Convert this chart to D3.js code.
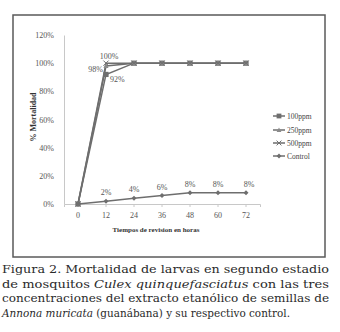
<!DOCTYPE html>
<html>
<head>
<meta charset="utf-8">
<script src="https://cdn.jsdelivr.net/npm/d3@7"></script>
<style>
  html, body { margin: 0; padding: 0; background: #fff; }
  svg { display: block; }
</style>
</head>
<body>
<svg id="chart" width="340" height="332"></svg>
<script>
// Hours of observation (categories on the x axis)
const hours = ["0", "12", "24", "36", "48", "60", "72"];
// Mortality (fraction) per concentration
const mort100 = [0, 0.92, 1, 1, 1, 1, 1];
const mort250 = [0, 0.98, 1, 1, 1, 1, 1];
const mort500 = [0, 1.00, 1, 1, 1, 1, 1];
const control = [0, 0.02, 0.04, 0.06, 0.08, 0.08, 0.08];
const seriesNames = ["100ppm", "250ppm", "500ppm", "Control"];
const yTicks = [0, 0.2, 0.4, 0.6, 0.8, 1.0, 1.2];

const svg = d3.select("#chart");
const fmt = d => Math.round(d * 100) + "%";
const serif = "'Liberation Serif', 'Times New Roman', serif";
const grey = "#6e6e6e";

// Frame around the chart
svg.append("rect")
  .attr("x", 13).attr("y", 15).attr("width", 312).attr("height", 242)
  .attr("fill", "#fff").attr("stroke", "#5a5a5a").attr("stroke-width", 1.5);

const x = d3.scaleBand().domain(hours).range([64, 260]);
const y = d3.scaleLinear().domain([0, 1.2]).range([204, 35]);
const cx = h => x(h) + x.bandwidth() / 2;

// Y axis
const yAxis = svg.append("g").attr("transform", "translate(64,0)")
  .call(d3.axisLeft(y).tickValues(yTicks).tickFormat(fmt).tickSize(0).tickPadding(10));
yAxis.select(".domain").attr("stroke", "#c8c8c8");
yAxis.selectAll("text").attr("font-family", serif).attr("font-size", 8).attr("fill", "#555");

// X axis
const xAxis = svg.append("g").attr("transform", "translate(0,204)")
  .call(d3.axisBottom(x).tickSize(3).tickPadding(5));
xAxis.select(".domain").attr("stroke", "#c8c8c8");
xAxis.selectAll(".tick line").attr("stroke", "#c8c8c8");
xAxis.selectAll("text").attr("font-family", serif).attr("font-size", 8).attr("fill", "#555");

// Axis titles
svg.append("text")
  .attr("x", 156).attr("y", 232).attr("text-anchor", "middle")
  .attr("font-family", serif).attr("font-weight", "bold").attr("font-size", 7).attr("fill", "#333")
  .text("Tiempos de revision en horas");
svg.append("text")
  .attr("transform", "translate(36,117) rotate(-90)").attr("text-anchor", "middle")
  .attr("font-family", serif).attr("font-weight", "bold").attr("font-size", 8).attr("fill", "#333")
  .text("% Mortalidad");

const line = d3.line().x((d, i) => cx(hours[i])).y(d => y(d));
const allSeries = [mort100, mort250, mort500, control];

// Lines
allSeries.forEach(vals => {
  svg.append("path").datum(vals).attr("d", line)
    .attr("fill", "none").attr("stroke", grey).attr("stroke-width", 1.5);
});

// Marker drawers
function marker(g, kind, px, py, s) {
  if (kind === "square") {
    g.append("rect").attr("x", px - s).attr("y", py - s).attr("width", 2 * s).attr("height", 2 * s)
      .attr("fill", grey);
  } else if (kind === "triangle") {
    g.append("path").attr("d", `M${px},${py - s}L${px + s},${py + s * 0.8}L${px - s},${py + s * 0.8}Z`)
      .attr("fill", "#8a8a8a");
  } else if (kind === "cross") {
    g.append("path").attr("d", `M${px - s},${py - s}L${px + s},${py + s}M${px - s},${py + s}L${px + s},${py - s}`)
      .attr("stroke", grey).attr("stroke-width", 1);
  } else {
    g.append("path").attr("d", `M${px},${py - s}L${px + s},${py}L${px},${py + s}L${px - s},${py}Z`)
      .attr("fill", grey);
  }
}
const kinds = ["square", "triangle", "cross", "diamond"];
const markG = svg.append("g");
allSeries.forEach((vals, k) => {
  vals.forEach((v, i) => marker(markG, kinds[k], cx(hours[i]), y(v), k === 3 ? 2.5 : 2.6));
});

// Value labels
const lab = (txt, px, py, anchor) => svg.append("text")
  .attr("x", px).attr("y", py).attr("text-anchor", anchor || "middle")
  .attr("font-family", serif).attr("font-size", 8).attr("fill", "#555").text(txt);
lab(fmt(mort500[1]), cx(hours[1]) + 3, y(mort500[1]) - 4);
lab(fmt(mort250[1]), cx(hours[1]) - 3, y(mort250[1]) + 6, "end");
lab(fmt(mort100[1]), cx(hours[1]) + 4, y(mort100[1]) + 8, "start");
control.forEach((v, i) => {
  if (i > 0) lab(fmt(v), cx(hours[i]) + (i === 6 ? 3 : 0), y(v) - 6);
});

// Legend
const legY = [116, 130, 143, 156];
seriesNames.forEach((name, k) => {
  const ly = legY[k];
  svg.append("line").attr("x1", 273).attr("x2", 285).attr("y1", ly).attr("y2", ly)
    .attr("stroke", grey).attr("stroke-width", 1.5);
  marker(svg, kinds[k], 279, ly, 2.4);
  svg.append("text").attr("x", 287).attr("y", ly + 3)
    .attr("font-family", serif).attr("font-size", 7.5).attr("fill", "#444").text(name);
});

// Caption
const capFont = "'DejaVu Serif', serif";
const capLines = [
  [["Figura 2. Mortalidad de larvas en segundo estadio", false]],
  [["de mosquitos ", false], ["Culex quinquefasciatus", true], [" con las tres", false]],
  [["concentraciones del extracto etanólico de semillas de", false]],
  [["Annona muricata", true], [" (guanábana) y su respectivo control.", false]]
];
const capY = [273, 288, 302, 317];
const capW = [327, 327, 327, 288];
capLines.forEach((parts, i) => {
  const t = svg.append("text").attr("x", 2).attr("y", capY[i])
    .attr("font-family", capFont).attr("font-size", 11.5).attr("fill", "#2a2a2a")
    .attr("textLength", capW[i]).attr("lengthAdjust", "spacingAndGlyphs");
  parts.forEach(([s, it]) => {
    t.append("tspan").attr("font-style", it ? "italic" : "normal").text(s);
  });
});
</script>
</body>
</html>
